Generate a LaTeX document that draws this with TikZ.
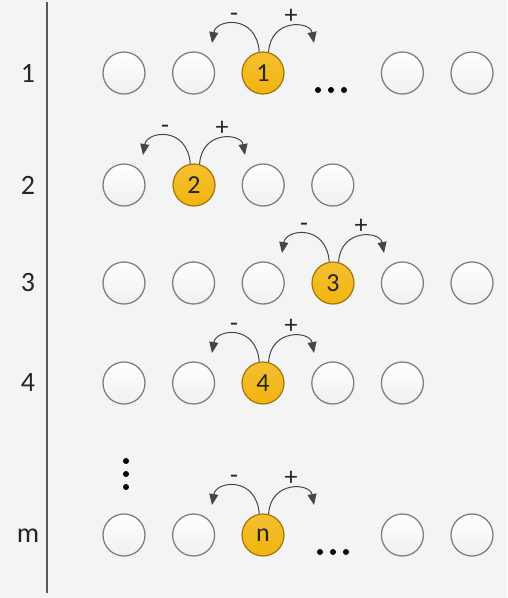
\documentclass[tikz,border=0pt]{standalone}
\usepackage{fontspec}
\setmainfont{Carlito}
\usetikzlibrary{arrows.meta}

\definecolor{bgcol}{RGB}{244,244,244}
\definecolor{ballgold}{RGB}{242,180,14}
\definecolor{balledge}{RGB}{160,118,8}
\definecolor{ringgray}{RGB}{128,128,128}
\definecolor{arcgray}{RGB}{70,70,70}

\begin{document}
\begin{tikzpicture}[x=1pt,y=-1pt,
	ring/.style={circle,draw=ringgray,line width=1.3pt,minimum size=42pt,inner sep=0pt,top color=white,bottom color=gray!12},
	ball/.style={circle,draw=balledge,line width=1.2pt,top color=ballgold!85!white,bottom color=ballgold,minimum size=42pt,inner sep=0pt,text=black!85,font=\fontsize{26}{28}\selectfont},
	rowlab/.style={font=\fontsize{28}{30}\selectfont,text=black!85},
	sign/.style={font=\fontsize{26}{28}\selectfont,text=black!85,inner sep=0pt,anchor=base},
	hop/.style={draw=arcgray,line width=1pt,-{Triangle[length=11pt,width=9pt]}}]
	\useasboundingbox (0,0) rectangle (507,598);
	\fill[bgcol] (0,0) rectangle (507,598);
	\draw [black!65,line width=1.2pt] (47,2) -- (47,593);

	% row labels
	\node [rowlab] (lab1) at (28,73) {1};
	\node [rowlab] (lab2) at (28,185) {2};
	\node [rowlab] (lab3) at (28,283) {3};
	\node [rowlab] (lab4) at (28,383) {4};
	\node [rowlab] (labm) at (28,536) {m};

	% empty places
	\foreach \c in {1,2,5,6} \node [ring] (r1-\c) at ({124+69.6*(\c-1)},73) {};
	\foreach \c in {1,3,4} \node [ring] (r2-\c) at ({124+69.6*(\c-1)},185) {};
	\foreach \c in {1,2,3,5,6} \node [ring] (r3-\c) at ({124+69.6*(\c-1)},283) {};
	\foreach \c in {1,2,4,5} \node [ring] (r4-\c) at ({124+69.6*(\c-1)},383) {};
	\foreach \c in {1,2,5,6} \node [ring] (rm-\c) at ({124+69.6*(\c-1)},535) {};

	% occupied places
	\node [ball] (k1) at (263,73) {1};
	\node [ball] (k2) at (194,185) {2};
	\node [ball] (k3) at (333,283) {3};
	\node [ball] (k4) at (263,383) {4};
	\node [ball] (km) at (263,535) {n};

	\foreach \b in {k1,k2,k3,k4,km} {
		\coordinate (\b-l) at ([shift={(-51,-30)}]\b.center);
		\coordinate (\b-r) at ([shift={(51,-30)}]\b.center);
		\draw [hop] (\b.100) .. controls +(-3,-38) and +(4,-24) .. (\b-l);
		\draw [hop] (\b.75) .. controls +(2,-34) and +(-4,-22) .. (\b-r);
		\node [sign] (\b-minus) at ([shift={(-29,-52)}]\b.center) {-};
		\node [sign] (\b-plus) at ([shift={(28,-50)}]\b.center) {+};
	}

	% dots
	\foreach \x in {318,331,344} \fill (\x,90) circle (3pt);
	\foreach \x in {320,333,346} \fill (\x,552) circle (3pt);
	\foreach \y in {461,474,487} \fill (126,\y) circle (3pt);
\end{tikzpicture}
\end{document}
